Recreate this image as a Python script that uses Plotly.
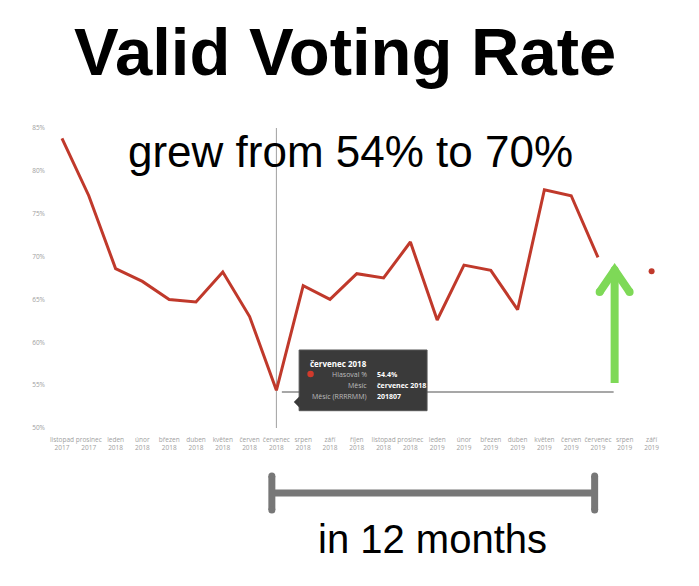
import plotly.graph_objects as go

# ---------------- data ----------------
months = ["listopad", "prosinec", "leden", "únor", "březen", "duben", "květen", "červen",
          "červenec", "srpen", "září", "říjen", "listopad", "prosinec", "leden", "únor",
          "březen", "duben", "květen", "červen", "červenec", "srpen", "září"]
years = ["2017", "2017"] + ["2018"] * 12 + ["2019"] * 9
values = [83.8, 77.1, 68.6, 67.1, 65.0, 64.7, 68.2, 63.0, 54.4, 66.6, 65.0, 68.0,
          67.5, 71.7, 62.6, 69.0, 68.4, 63.8, 77.8, 77.1, 69.9, None, 68.3]
y_ticks = [50, 55, 60, 65, 70, 75, 80, 85]
min_idx = 8        # červenec 2018
end_idx = 20       # červenec 2019

labels = [f"{m}<br>{y}" for m, y in zip(months, years)]
idx = list(range(len(months)))

# ---------------- layout geometry ----------------
W, H = 699, 586
OFF = 8  # page body margin
ML, MT = 50 - OFF, 128 - OFF
PW = 615.4
PH = 300
MR = W - ML - PW
MB = H - MT - PH
X0, X1 = -0.447, 22.5
Y0, Y1 = 50, 85


def px(x):
    return (x - OFF - ML) / PW


def py(y):
    return (MT + PH - (y - OFF)) / PH


RED = "#c0392b"
GREEN = "#7ed957"
GRAY = "#777777"

# isolated points (no neighbours) shown as markers
iso_x, iso_y = [], []
for i, v in enumerate(values):
    if v is None:
        continue
    prev_none = i == 0 or values[i - 1] is None
    next_none = i == len(values) - 1 or values[i + 1] is None
    if prev_none and next_none:
        iso_x.append(i)
        iso_y.append(v)

fig = go.Figure()
fig.add_trace(go.Scatter(x=idx, y=values, mode="lines", connectgaps=False,
                         line=dict(color=RED, width=3), hoverinfo="skip"))
fig.add_trace(go.Scatter(x=iso_x, y=iso_y, mode="markers",
                         marker=dict(color=RED, size=6), hoverinfo="skip"))

shapes = []
# crosshair vertical
shapes.append(dict(type="line", xref="x", yref="paper", x0=min_idx, x1=min_idx, y0=0, y1=1,
                   line=dict(color="#a0a0a0", width=1), layer="below"))
# crosshair horizontal
shapes.append(dict(type="line", xref="paper", yref="y", x0=px(282), x1=px(614), y0=54.2, y1=54.2,
                   line=dict(color="#8a8a8a", width=1.6), layer="below"))
# tooltip box
shapes.append(dict(type="rect", xref="paper", yref="paper", x0=px(299.3), x1=px(427.3),
                   y0=py(410.7), y1=py(350), fillcolor="#3a3a3a",
                   line=dict(color="#555555", width=1)))
shapes.append(dict(type="path", xref="paper", yref="paper",
                   path=f"M {px(300)} {py(396)} L {px(294)} {py(402)} L {px(300)} {py(408)} Z",
                   fillcolor="#3a3a3a", line=dict(color="#3a3a3a", width=0)))
# tooltip red dot
shapes.append(dict(type="circle", xref="paper", yref="paper", x0=px(307.5), x1=px(314),
                   y0=py(377.3), y1=py(370.8), fillcolor="#d03a2c", line=dict(width=0)))

# green arrow
shapes.append(dict(type="line", xref="paper", yref="paper", x0=px(615), x1=px(615),
                   y0=py(383), y1=py(272), line=dict(color=GREEN, width=8)))
shapes.append(dict(type="path", xref="paper", yref="paper",
                   path=f"M {px(600)} {py(292)} L {px(615)} {py(270)} L {px(630)} {py(292)}",
                   line=dict(color=GREEN, width=8)))
for cx, cy in [(600, 292), (630, 292), (615, 270)]:
    shapes.append(dict(type="circle", xref="paper", yref="paper", x0=px(cx - 4), x1=px(cx + 4),
                       y0=py(cy + 4), y1=py(cy - 4), fillcolor=GREEN, line=dict(width=0)))

# gray bracket
bl, br, by = 272, 595, 493
shapes.append(dict(type="line", xref="paper", yref="paper", x0=px(bl), x1=px(br), y0=py(by), y1=py(by),
                   line=dict(color=GRAY, width=7)))
for bx in (bl, br):
    shapes.append(dict(type="line", xref="paper", yref="paper", x0=px(bx), x1=px(bx),
                       y0=py(476), y1=py(510), line=dict(color=GRAY, width=7)))
    for cy in (476, 510):
        shapes.append(dict(type="circle", xref="paper", yref="paper", x0=px(bx - 3.5), x1=px(bx + 3.5),
                           y0=py(cy + 3.5), y1=py(cy - 3.5), fillcolor=GRAY, line=dict(width=0)))

ann = []
FONT = "Liberation Sans, Arial, sans-serif"
ann.append(dict(text="<b>Valid Voting Rate</b>", x=px(345), y=py(52), xref="paper", yref="paper",
                showarrow=False, xanchor="center", yanchor="middle",
                font=dict(family=FONT, size=67, color="black")))
ann.append(dict(text=f"grew from {round(values[min_idx])}% to {round(values[end_idx])}%",
                x=px(351), y=py(151), xref="paper", yref="paper",
                showarrow=False, xanchor="center", yanchor="middle",
                font=dict(family=FONT, size=44, color="black")))
ann.append(dict(text=f"in {end_idx - min_idx} months", x=px(433), y=py(539), xref="paper", yref="paper",
                showarrow=False, xanchor="center", yanchor="middle",
                font=dict(family=FONT, size=40, color="black")))

# tooltip texts
TF = "Open Sans, sans-serif"
ann.append(dict(text=f"<b>{months[min_idx]} {years[min_idx]}</b>", x=px(308), y=py(363),
                xref="paper", yref="paper", showarrow=False, xanchor="left", yanchor="middle",
                font=dict(family=TF, size=8, color="white")))
rows = [("Hlasoval %", f"{values[min_idx]}%", 374),
        ("Měsíc", f"{months[min_idx]} {years[min_idx]}", 385),
        ("Měsíc (RRRRMM)", f"{years[min_idx]}07", 396.7)]
for lab, val, yy in rows:
    ann.append(dict(text=lab, x=px(369), y=py(yy), xref="paper", yref="paper", showarrow=False,
                    xanchor="right", yanchor="middle", font=dict(family=TF, size=7, color="#bdbdbd")))
    ann.append(dict(text=f"<b>{val}</b>", x=px(375), y=py(yy), xref="paper", yref="paper",
                    showarrow=False, xanchor="left", yanchor="middle",
                    font=dict(family=TF, size=7, color="white")))

fig.update_layout(
    width=W, height=H,
    margin=dict(l=ML, r=MR, t=MT, b=MB),
    paper_bgcolor="white", plot_bgcolor="white",
    showlegend=False,
    shapes=shapes, annotations=ann,
    xaxis=dict(range=[X0, X1], tickmode="array", tickvals=idx, ticktext=labels,
               showgrid=False, zeroline=False, showline=False, ticks="",
               ticklabelstandoff=6,
               tickfont=dict(family=TF, size=6.5, color="#a0a0a0"), tickangle=0),
    yaxis=dict(range=[Y0, Y1], tickmode="array", tickvals=y_ticks,
               ticktext=[f"{t}%" for t in y_ticks],
               showgrid=False, zeroline=False, showline=False, ticks="",
               ticklabelstandoff=4,
               tickfont=dict(family=TF, size=6.5, color="#a0a0a0")),
)

fig.write_html("out.html")
